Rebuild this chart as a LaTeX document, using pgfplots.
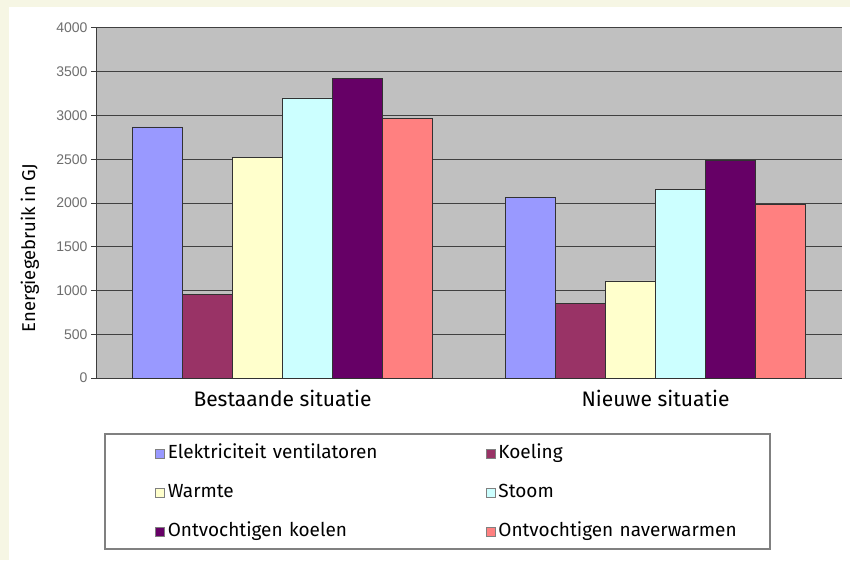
\documentclass[border=0pt]{standalone}
\usepackage{pgfplots}
\pgfplotsset{compat=1.18}
\usepackage{fontspec}
\setmainfont{Fira Sans}
\newfontfamily\tickfont{Liberation Sans}
\definecolor{cream}{RGB}{246,246,228}
\definecolor{plotbg}{RGB}{192,192,192}
\definecolor{gridc}{RGB}{64,64,64}
\definecolor{axisc}{RGB}{60,60,60}
\definecolor{tickc}{RGB}{110,110,110}
\definecolor{cA}{RGB}{153,153,255}
\definecolor{cB}{RGB}{153,51,102}
\definecolor{cC}{RGB}{255,255,204}
\definecolor{cD}{RGB}{204,255,255}
\definecolor{cE}{RGB}{102,0,102}
\definecolor{cF}{RGB}{255,128,128}
\definecolor{barline}{RGB}{50,50,50}
\begin{document}
\begin{tikzpicture}
\fill[cream] (0,0) rectangle (850pt,560pt);
\fill[white] (9pt,0) rectangle (850pt,553pt);
\draw[gray, line width=1.2pt] (105pt,126pt) rectangle (770pt,11pt);
\begin{axis}[
  at={(96pt,182pt)}, anchor=south west,
  scale only axis, width=746pt, height=350pt,
  xmin=-0.5, xmax=1.5, ymin=0, ymax=4000,
  ybar=0pt, bar width=50pt,
  axis background/.style={fill=plotbg},
  axis x line*=bottom, axis y line*=left,
  axis line style={draw=axisc, line width=1pt, -},
  xtick={0,1}, xticklabels={Bestaande situatie, Nieuwe situatie},
  major x tick style={draw=none},
  extra x ticks={-0.5,0.5,1.5}, extra x tick labels={},
  extra x tick style={major tick length=8pt, tick align=outside, tick style={draw=axisc, line width=1pt}},
  ytick={0,500,...,4000},
  ymajorgrids, grid style={draw=gridc, line width=1pt},
  y tick style={draw=axisc, line width=1pt},
  major tick length=5pt, tick align=outside,
  yticklabel style={font=\tickfont\fontsize{14}{16}\selectfont, text=tickc},
  /pgf/number format/assume math mode=true,
  /pgf/number format/1000 sep={},
  xticklabel style={font=\fontsize{21}{24}\selectfont, yshift=-4pt},
  ylabel={Energiegebruik in GJ},
  ylabel style={font=\fontsize{18.5}{21}\selectfont, at={(axis description cs:-0.0885,0.371)}, anchor=center},
  legend columns=2,
  legend image code/.code={\draw[#1, draw=gray, line width=0.6pt] (0pt,-4.5pt) rectangle (9pt,4.5pt);},
  legend style={draw=none, fill=none, at={(59pt,-66pt)}, anchor=north west,
    legend cell align=left, inner sep=0pt,
    font=\fontsize{19}{22}\selectfont,
    nodes={inner sep=0pt, text height=14pt, text depth=5pt, text width=300pt, align=left},
    row sep=20pt,
    /tikz/column 1/.style={column sep=3pt},
    /tikz/column 2/.style={column sep=18pt},
    /tikz/column 3/.style={column sep=3pt}},
]
\addplot[fill=cA, draw=barline, line width=0.6pt] coordinates {(0,2870) (1,2060)};
\addplot[fill=cB, draw=barline, line width=0.6pt] coordinates {(0,955) (1,850)};
\addplot[fill=cC, draw=barline, line width=0.6pt] coordinates {(0,2520) (1,1110)};
\addplot[fill=cD, draw=barline, line width=0.6pt] coordinates {(0,3200) (1,2160)};
\addplot[fill=cE, draw=barline, line width=0.6pt] coordinates {(0,3420) (1,2485)};
\addplot[fill=cF, draw=barline, line width=0.6pt] coordinates {(0,2970) (1,1985)};
\legend{Elektriciteit ventilatoren, Koeling, Warmte, Stoom, Ontvochtigen koelen, Ontvochtigen naverwarmen}
\end{axis}
\end{tikzpicture}
\end{document}
